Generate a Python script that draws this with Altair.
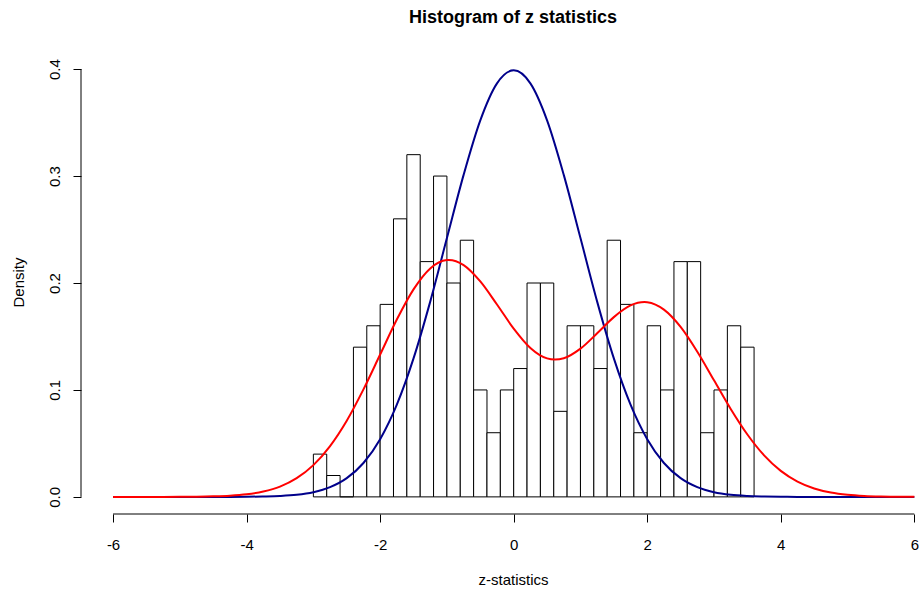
import altair as alt
import pandas as pd

# Histogram bins (left edges, width 0.2) and densities
bin_left = [-3.0, -2.8, -2.6, -2.4, -2.2, -2.0, -1.8, -1.6, -1.4, -1.2, -1.0,
            -0.8, -0.6, -0.4, -0.2, 0.0, 0.2, 0.4, 0.6, 0.8, 1.0, 1.2, 1.4,
            1.6, 1.8, 2.0, 2.2, 2.4, 2.6, 2.8, 3.0, 3.2, 3.4]
bin_right = [-2.8, -2.6, -2.4, -2.2, -2.0, -1.8, -1.6, -1.4, -1.2, -1.0, -0.8,
             -0.6, -0.4, -0.2, 0.0, 0.2, 0.4, 0.6, 0.8, 1.0, 1.2, 1.4, 1.6,
             1.8, 2.0, 2.2, 2.4, 2.6, 2.8, 3.0, 3.2, 3.4, 3.6]
density = [0.04, 0.02, 0.00, 0.14, 0.16, 0.18, 0.26, 0.32, 0.22, 0.30, 0.20,
           0.24, 0.10, 0.06, 0.10, 0.12, 0.20, 0.20, 0.08, 0.16, 0.16, 0.12,
           0.24, 0.18, 0.06, 0.16, 0.10, 0.22, 0.22, 0.06, 0.10, 0.16, 0.14]

# Curve sample positions and heights
curve_x = [-6.0, -5.75, -5.5, -5.25, -5.0, -4.75, -4.5, -4.25, -4.0, -3.75,
           -3.5, -3.25, -3.0, -2.75, -2.5, -2.25, -2.0, -1.75, -1.5, -1.25,
           -1.0, -0.75, -0.5, -0.25, 0.0, 0.25, 0.5, 0.75, 1.0, 1.25, 1.5,
           1.75, 2.0, 2.25, 2.5, 2.75, 3.0, 3.25, 3.5, 3.75, 4.0, 4.25, 4.5,
           4.75, 5.0, 5.25, 5.5, 5.75, 6.0]
blue_y = [0.0000, 0.0000, 0.0000, 0.0000, 0.0000, 0.0000, 0.0000, 0.0000,
          0.0001, 0.0004, 0.0009, 0.0020, 0.0044, 0.0091, 0.0175, 0.0317,
          0.0540, 0.0863, 0.1295, 0.1826, 0.2420, 0.3011, 0.3521, 0.3867,
          0.3989, 0.3867, 0.3521, 0.3011, 0.2420, 0.1826, 0.1295, 0.0863,
          0.0540, 0.0317, 0.0175, 0.0091, 0.0044, 0.0020, 0.0009, 0.0004,
          0.0001, 0.0000, 0.0000, 0.0000, 0.0000, 0.0000, 0.0000, 0.0000,
          0.0000]
red_y = [0.0000, 0.0000, 0.0000, 0.0000, 0.0001, 0.0002, 0.0005, 0.0011,
         0.0024, 0.0050, 0.0096, 0.0175, 0.0297, 0.0475, 0.0712, 0.1005,
         0.1331, 0.1658, 0.1940, 0.2136, 0.2214, 0.2168, 0.2015, 0.1799,
         0.1574, 0.1393, 0.1295, 0.1296, 0.1386, 0.1530, 0.1681, 0.1790,
         0.1820, 0.1751, 0.1589, 0.1357, 0.1090, 0.0822, 0.0583, 0.0388,
         0.0243, 0.0143, 0.0079, 0.0041, 0.0020, 0.0009, 0.0004, 0.0002,
         0.0001]

x_ticks = [-6, -4, -2, 0, 2, 4, 6]
y_ticks = [0.0, 0.1, 0.2, 0.3, 0.4]

FONT = "Liberation Sans"

hist_df = pd.DataFrame({"left": bin_left, "right": bin_right, "density": density})
curve_df = pd.DataFrame({"x": curve_x, "blue": blue_y, "red": red_y})
xaxis_df = pd.DataFrame({"x": [x_ticks[0]], "x2": [x_ticks[-1]]})
yaxis_df = pd.DataFrame({"y": [y_ticks[0]], "y2": [y_ticks[-1]]})

xscale = alt.Scale(domain=[-6.48, 6.07], nice=False, zero=False)
yscale = alt.Scale(domain=[-0.016, 0.416], nice=False, zero=False)

x_axis = alt.Axis(
    values=x_ticks, labelExpr="'' + datum.value", domain=False, grid=False,
    tickSize=8, tickColor="black", tickWidth=1,
    labelPadding=15, labelFontSize=15, labelFont=FONT, labelColor="black",
    labelFlush=False, labelOverlap=False,
    title="z-statistics", titleFont=FONT, titleFontSize=15,
    titleFontWeight="normal", titleColor="black",
    titleX=432, titleY=70, titleAlign="center", titleBaseline="alphabetic",
)
y_axis = alt.Axis(
    values=y_ticks, format=".1f", domain=False, grid=False,
    tickSize=8, tickColor="black", tickWidth=1,
    labelAngle=270, labelAlign="center", labelBaseline="alphabetic",
    labelPadding=14, labelFontSize=15, labelFont=FONT, labelColor="black",
    labelFlush=False, labelOverlap=False,
    title="Density", titleFont=FONT, titleFontSize=15,
    titleFontWeight="normal", titleColor="black", titleAngle=270,
    titleX=-58, titleY=230, titleAlign="center", titleBaseline="alphabetic",
)

bars = alt.Chart(hist_df).mark_rect(
    fill="white", stroke="black", strokeWidth=1
).encode(
    x=alt.X("left:Q", scale=xscale, axis=x_axis),
    x2="right:Q",
    y=alt.Y("density:Q", scale=yscale, axis=y_axis),
    y2=alt.datum(0),
)

blue_line = alt.Chart(curve_df).mark_line(
    color="#00008B", strokeWidth=2, interpolate="monotone"
).encode(
    x=alt.X("x:Q", scale=xscale),
    y=alt.Y("blue:Q", scale=yscale),
)

red_line = alt.Chart(curve_df).mark_line(
    color="#FF0000", strokeWidth=2, interpolate="cardinal"
).encode(
    x=alt.X("x:Q", scale=xscale),
    y=alt.Y("red:Q", scale=yscale),
)

x_axis_line = alt.Chart(xaxis_df).mark_rule(color="black", strokeWidth=1).encode(
    x=alt.X("x:Q", scale=xscale),
    x2="x2:Q",
    y=alt.value(462),
)
y_axis_line = alt.Chart(yaxis_df).mark_rule(color="black", strokeWidth=1).encode(
    x=alt.value(0),
    y=alt.Y("y:Q", scale=yscale),
    y2="y2:Q",
)

chart = alt.layer(
    bars, blue_line, red_line, x_axis_line, y_axis_line
).properties(
    width=838,
    height=462,
    padding={"left": 81, "top": 52, "right": 0, "bottom": 78},
    autosize=alt.AutoSizeParams(type="none"),
    background="white",
    title=alt.TitleParams(
        text="Histogram of z statistics", font=FONT, fontSize=18,
        fontWeight="bold", color="black", anchor="middle", dx=13,
        baseline="alphabetic", offset=11,
    ),
).configure_view(stroke=None)

chart.save("out.html", embed_options={"renderer": "svg", "actions": False})
